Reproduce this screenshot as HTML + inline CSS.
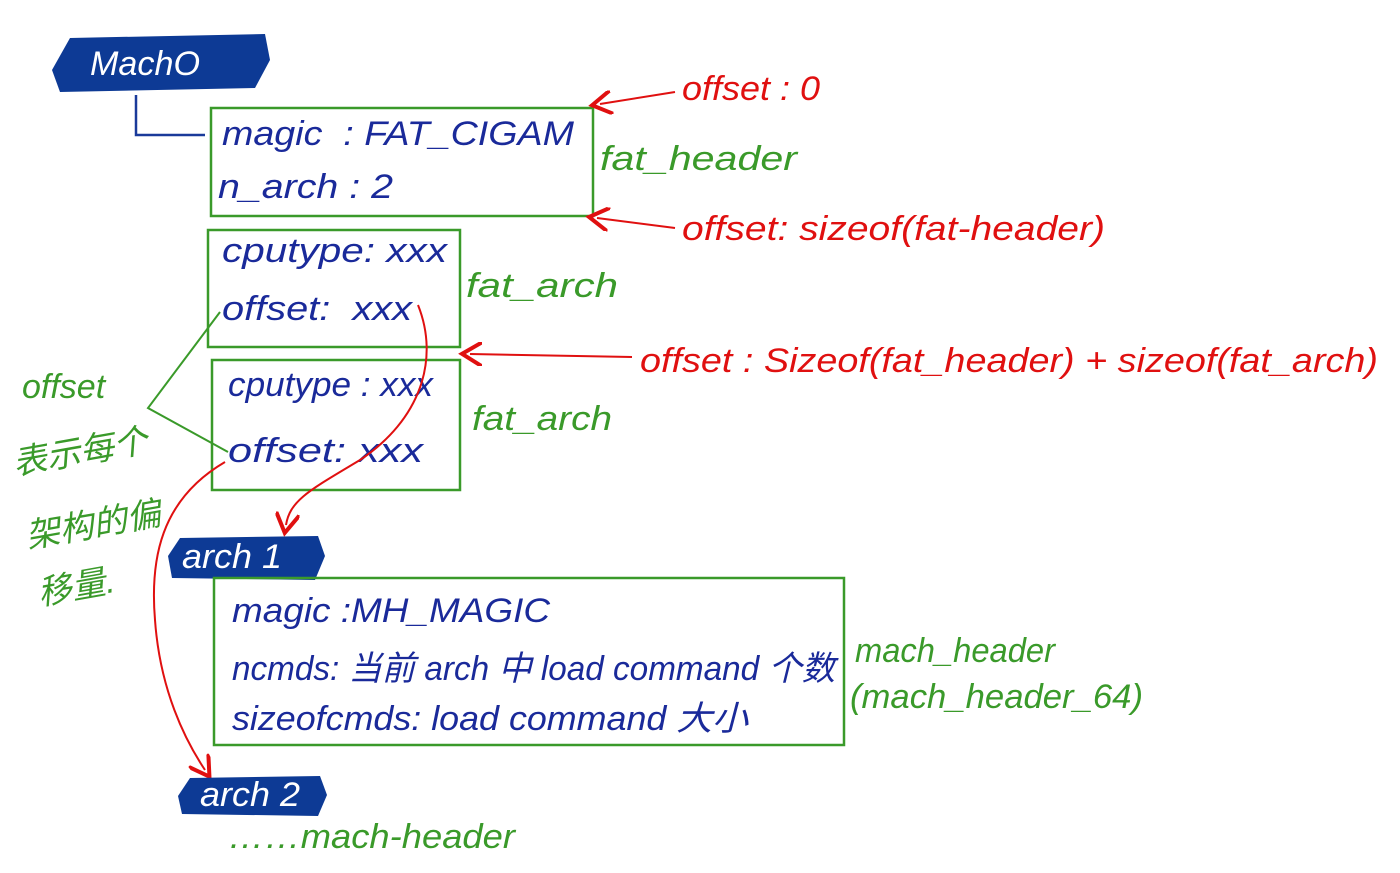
<!DOCTYPE html>
<html><head><meta charset="utf-8"><style>
html,body{margin:0;padding:0;background:#fff;}
svg{display:block}
text{font-family:"Liberation Sans","Noto Sans CJK SC",sans-serif;font-style:italic;}
.b{fill:#1a2a9a;font-size:34px}
.g{fill:#3a9a2a;font-size:34px}
.r{fill:#e01010;font-size:34px}
.w{fill:#fff;font-size:34px}
</style></head><body>
<svg width="1400" height="873" viewBox="0 0 1400 873" xmlns="http://www.w3.org/2000/svg">
<defs>
<marker id="ar" markerWidth="12" markerHeight="12" refX="6" refY="6" orient="auto"><path d="M0,0 L10,6 L0,12" fill="none" stroke="#e01010" stroke-width="2"/></marker>
</defs>
<path d="M70,38 L265,34 L270,60 L255,88 L60,92 L52,70 Z" fill="#0d3a95"/>
<text x="90" y="75" class="w" textLength="110" lengthAdjust="spacingAndGlyphs">MachO</text>
<path d="M136,95 L136,135 L205,135" fill="none" stroke="#1a3a9a" stroke-width="2.5"/>
<rect x="211" y="108" width="382" height="108" fill="none" stroke="#3a9a2a" stroke-width="2.5"/>
<text x="222" y="145" class="b" textLength="352" lengthAdjust="spacingAndGlyphs">magic&#160;&#160;:&#160;FAT_CIGAM</text>
<text x="218" y="198" class="b" textLength="175" lengthAdjust="spacingAndGlyphs">n_arch : 2</text>
<text x="600" y="170" class="g" textLength="197" lengthAdjust="spacingAndGlyphs">fat_header</text>
<line x1="675" y1="92" x2="600" y2="104" stroke="#e01010" stroke-width="2" marker-end="url(#ar)"/>
<text x="682" y="100" class="r" textLength="138" lengthAdjust="spacingAndGlyphs">offset : 0</text>
<line x1="675" y1="228" x2="597" y2="218" stroke="#e01010" stroke-width="2" marker-end="url(#ar)"/>
<text x="682" y="240" class="r" textLength="423" lengthAdjust="spacingAndGlyphs">offset: sizeof(fat-header)</text>
<rect x="208" y="230" width="252" height="117" fill="none" stroke="#3a9a2a" stroke-width="2.5"/>
<text x="222" y="262" class="b" textLength="225" lengthAdjust="spacingAndGlyphs">cputype: xxx</text>
<text x="222" y="320" class="b" textLength="190" lengthAdjust="spacingAndGlyphs">offset:&#160;&#160;xxx</text>
<text x="466" y="297" class="g" textLength="152" lengthAdjust="spacingAndGlyphs">fat_arch</text>
<rect x="212" y="360" width="248" height="130" fill="none" stroke="#3a9a2a" stroke-width="2.5"/>
<text x="228" y="396" class="b" textLength="205" lengthAdjust="spacingAndGlyphs">cputype : xxx</text>
<text x="228" y="462" class="b" textLength="195" lengthAdjust="spacingAndGlyphs">offset: xxx</text>
<text x="472" y="430" class="g" textLength="140" lengthAdjust="spacingAndGlyphs">fat_arch</text>
<line x1="632" y1="357" x2="470" y2="354" stroke="#e01010" stroke-width="2" marker-end="url(#ar)"/>
<text x="640" y="372" class="r" textLength="738" lengthAdjust="spacingAndGlyphs">offset : Sizeof(fat_header) + sizeof(fat_arch)</text>
<path d="M220,312 L148,408 L228,452" fill="none" stroke="#3a9a2a" stroke-width="2"/>
<text x="22" y="398" class="g" font-size="30">offset</text>
<text x="15" y="475" class="g" font-size="32" transform="rotate(-10 15 475)">表示每个</text>
<text x="28" y="548" class="g" font-size="32" transform="rotate(-10 28 548)">架构的偏</text>
<text x="40" y="605" class="g" font-size="32" transform="rotate(-10 40 605)">移量.</text>
<path d="M418,305 C440,360 420,420 360,460 C310,490 290,500 286,525" fill="none" stroke="#e01010" stroke-width="2" marker-end="url(#ar)"/>
<path d="M225,462 C160,500 150,560 155,620 C160,690 185,740 205,770" fill="none" stroke="#e01010" stroke-width="2" marker-end="url(#ar)"/>
<path d="M180,538 L318,536 L325,556 L315,580 L172,578 L168,556 Z" fill="#0d3a95"/>
<text x="182" y="568" class="w" textLength="100" lengthAdjust="spacingAndGlyphs">arch 1</text>
<rect x="214" y="578" width="630" height="167" fill="none" stroke="#3a9a2a" stroke-width="2.5"/>
<text x="232" y="622" class="b" textLength="318" lengthAdjust="spacingAndGlyphs">magic :MH_MAGIC</text>
<text x="232" y="680" class="b" textLength="603" lengthAdjust="spacingAndGlyphs">ncmds: 当前 arch 中 load command 个数</text>
<text x="232" y="730" class="b" textLength="516" lengthAdjust="spacingAndGlyphs">sizeofcmds: load command 大小</text>
<text x="855" y="662" class="g" textLength="200" lengthAdjust="spacingAndGlyphs">mach_header</text>
<text x="850" y="708" class="g" textLength="293" lengthAdjust="spacingAndGlyphs">(mach_header_64)</text>
<path d="M190,778 L320,776 L327,795 L318,816 L182,814 L178,796 Z" fill="#0d3a95"/>
<text x="200" y="806" class="w" textLength="100" lengthAdjust="spacingAndGlyphs">arch 2</text>
<text x="228" y="848" class="g" textLength="287" lengthAdjust="spacingAndGlyphs">……mach-header</text>
</svg>
</body></html>
